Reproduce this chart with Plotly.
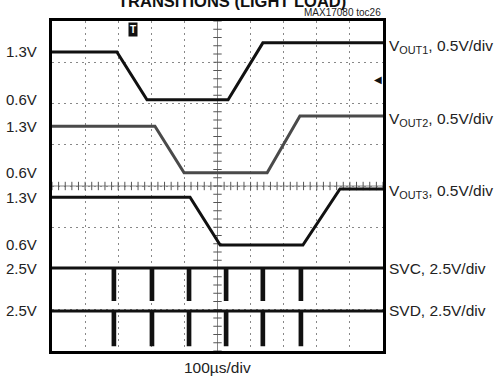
import plotly.graph_objects as go

# ---------------- data (time in µs, voltage in V) ----------------
TIME_PER_DIV = 100.0  # µs/div
N_XDIV = 10
N_YDIV = 8

# VOUT1 breakpoints
vout1_t = [0, 196, 287, 532, 637, 1000]
vout1_v = [1.30, 1.30, 0.72, 0.72, 1.41, 1.41]
# VOUT2 breakpoints
vout2_t = [0, 311, 399, 650, 749, 1000]
vout2_v = [1.30, 1.30, 0.735, 0.735, 1.425, 1.425]
# VOUT3 breakpoints
vout3_t = [0, 417, 508, 758, 870, 1000]
vout3_v = [1.30, 1.30, 0.72, 0.72, 1.40, 1.40]

# SVC / SVD pulse times (µs)
pulse_t = [187, 302, 414, 526, 637, 752]
svc_high, svc_low = 2.5, 0.6
svd_high, svd_low = 2.5, 0.45

# channel settings: (volts/div, offset in div)
ch_scale = {"v1": 0.5, "v2": 0.5, "v3": 0.5, "svc": 2.5, "svd": 2.5}
ch_offset = {"v1": 4.65, "v2": 2.85, "v3": 1.13, "svc": 1.01, "svd": -0.03}

left_labels = [("v1", 1.3, "1.3V"), ("v1", 0.72, "0.6V"),
               ("v2", 1.3, "1.3V"), ("v2", 0.735, "0.6V"),
               ("v3", 1.3, "1.3V"), ("v3", 0.72, "0.6V"),
               ("svc", 2.5, "2.5V"), ("svd", 2.5, "2.5V")]
right_labels = [("v1", 1.37, "V<sub>OUT1</sub>, 0.5V/div"),
                ("v2", 1.38, "V<sub>OUT2</sub>, 0.5V/div"),
                ("v3", 1.37, "V<sub>OUT3</sub>, 0.5V/div"),
                ("svc", 2.5, "SVC, 2.5V/div"),
                ("svd", 2.5, "SVD, 2.5V/div")]

FONT = "Liberation Sans Narrow, Arial Narrow, Liberation Sans, sans-serif"


def to_div(ch, v):
    return ch_offset[ch] + v / ch_scale[ch]


def pulses(times, hi, lo, w=2.5):
    t, v = [0], [hi]
    for p in times:
        t += [p - w, p - w, p + w, p + w]
        v += [hi, lo, lo, hi]
    t.append(1000)
    v.append(hi)
    return t, v


fig = go.Figure()

# center cross-hair ticks
tick_x = [i * 0.2 for i in range(N_XDIV * 5 + 1)]
tick_y = [i * 0.2 for i in range(N_YDIV * 5 + 1)]
fig.add_trace(go.Scatter(x=tick_x, y=[N_YDIV / 2] * len(tick_x), mode="lines+markers",
                         line=dict(color="#888", width=1),
                         marker=dict(symbol="line-ns", size=6, line=dict(color="#555", width=1)),
                         hoverinfo="skip", showlegend=False))
fig.add_trace(go.Scatter(x=[N_XDIV / 2] * len(tick_y), y=tick_y, mode="lines+markers",
                         line=dict(color="#888", width=1),
                         marker=dict(symbol="line-ew", size=6, line=dict(color="#555", width=1)),
                         hoverinfo="skip", showlegend=False))

traces = [("v1", vout1_t, vout1_v, "#111"),
          ("v2", vout2_t, vout2_v, "#4a4a4a"),
          ("v3", vout3_t, vout3_v, "#111")]
st, sv = pulses(pulse_t, svc_high, svc_low)
dt, dv = pulses(pulse_t, svd_high, svd_low)
traces += [("svc", st, sv, "#111"), ("svd", dt, dv, "#111")]

for ch, t, v, c in traces:
    fig.add_trace(go.Scatter(x=[ti / TIME_PER_DIV for ti in t],
                             y=[to_div(ch, vi) for vi in v],
                             mode="lines", line=dict(color=c, width=3),
                             hoverinfo="skip", showlegend=False))

ann = []
for ch, v, txt in left_labels:
    ann.append(dict(x=-0.039, xref="paper", y=to_div(ch, v), yref="y", text=txt,
                    showarrow=False, xanchor="right", yanchor="middle",
                    font=dict(family=FONT, size=15, color="#222")))
for ch, v, txt in right_labels:
    ann.append(dict(x=1.013, xref="paper", y=to_div(ch, v), yref="y", text=txt,
                    showarrow=False, xanchor="left", yanchor="middle",
                    font=dict(family=FONT, size=15.5, color="#222")))

ann.append(dict(x=0.5, xref="paper", y=-0.05, yref="paper", text="100µs/div",
                showarrow=False, xanchor="center", yanchor="middle",
                font=dict(family=FONT, size=15.5, color="#222")))
ann.append(dict(x=1.0, xref="paper", y=1.025, yref="paper", text="MAX17080 toc26",
                showarrow=False, xanchor="right", yanchor="middle",
                font=dict(family=FONT, size=10, color="#222")))
ann.append(dict(x=0.545, xref="paper", y=1.06, yref="paper",
                text="<b>TRANSITIONS (LIGHT LOAD)</b>",
                showarrow=False, xanchor="center", yanchor="middle",
                font=dict(family=FONT, size=16.5, color="#111")))
# trigger markers
ann.append(dict(x=2.45, y=7.8, xref="x", yref="y", text="<b>T</b>", showarrow=False,
                bgcolor="#111", borderpad=1,
                font=dict(family=FONT, size=10, color="white")))
ann.append(dict(x=9.85, y=6.6, xref="x", yref="y", text="◀", showarrow=False,
                font=dict(size=10, color="#111")))

fig.update_layout(
    width=498, height=379,
    margin=dict(l=52, r=115, t=21, b=28),
    paper_bgcolor="white", plot_bgcolor="white",
    annotations=ann,
    xaxis=dict(range=[0, N_XDIV], dtick=1, showticklabels=False, ticks="",
               showgrid=True, gridcolor="#888", griddash="2px,4px", gridwidth=1,
               zeroline=False, showline=True, mirror=True, linecolor="black", linewidth=3,
               fixedrange=True),
    yaxis=dict(range=[0, N_YDIV], dtick=1, showticklabels=False, ticks="",
               showgrid=True, gridcolor="#888", griddash="2px,4px", gridwidth=1,
               zeroline=False, showline=True, mirror=True, linecolor="black", linewidth=3,
               fixedrange=True),
)

fig.write_html("out.html")
